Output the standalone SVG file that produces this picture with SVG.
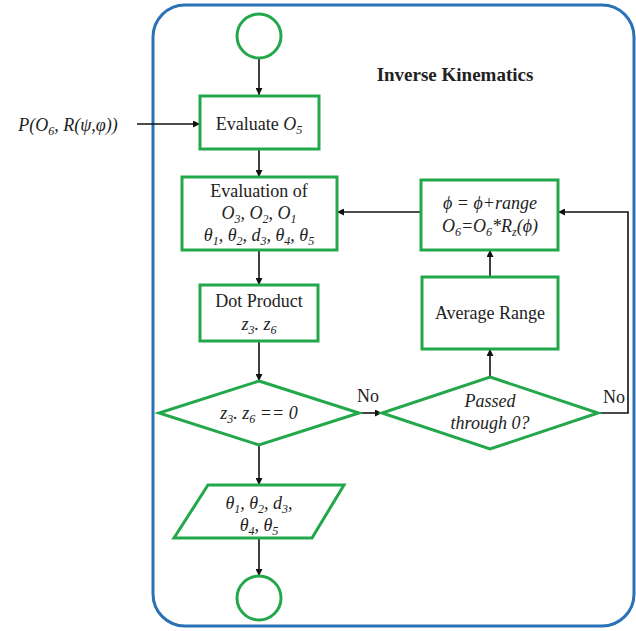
<svg xmlns="http://www.w3.org/2000/svg" width="636" height="631" viewBox="0 0 636 631">
<style>
.n{fill:#fff;stroke:#22a84a;stroke-width:3}
.c{fill:none;stroke:#111;stroke-width:1.6}
text{font-family:"Liberation Serif","Times New Roman",serif;font-size:18px;fill:#222;text-anchor:middle}
.i{font-style:italic}
.s{font-size:12px}
</style>
<defs>
<marker id="a" viewBox="0 0 10 10" refX="10" refY="5" markerWidth="7" markerHeight="7" orient="auto" markerUnits="userSpaceOnUse">
<path d="M0,0L10,5L0,10z" fill="#111"/>
</marker>
</defs>
<rect x="153" y="5" width="481" height="621" rx="32" fill="#fff" stroke="#2a72b8" stroke-width="3"/>
<text x="455" y="81" style="font-weight:bold;font-size:19px">Inverse Kinematics</text>
<text x="68" y="131" class="i">P(O<tspan class="s" dy="4">6</tspan><tspan dy="-4">, R(ψ,φ))</tspan></text>
<g id="connectors">
<line class="c" x1="259" y1="58" x2="259" y2="95" marker-end="url(#a)"/>
<line class="c" x1="137" y1="124" x2="200" y2="124" marker-end="url(#a)"/>
<line class="c" x1="259" y1="149" x2="259" y2="177" marker-end="url(#a)"/>
<line class="c" x1="259" y1="250" x2="259" y2="285" marker-end="url(#a)"/>
<line class="c" x1="259" y1="341" x2="259" y2="381" marker-end="url(#a)"/>
<line class="c" x1="259" y1="445" x2="259" y2="485" marker-end="url(#a)"/>
<line class="c" x1="259" y1="538" x2="259" y2="576" marker-end="url(#a)"/>
<line class="c" x1="359" y1="413" x2="382" y2="413" marker-end="url(#a)"/>
<line class="c" x1="490" y1="377" x2="490" y2="349" marker-end="url(#a)"/>
<line class="c" x1="490" y1="277" x2="490" y2="250" marker-end="url(#a)"/>
<line class="c" x1="421" y1="212" x2="337" y2="212" marker-end="url(#a)"/>
<polyline class="c" points="598,413 628,413 628,212 558,212" marker-end="url(#a)"/>
<text x="368" y="402">No</text>
<text x="614" y="403">No</text>
</g>
<g id="start"><circle class="n" cx="259" cy="36" r="22"/></g>
<g id="evalO5"><rect class="n" x="200" y="96" width="119" height="53"/>
<text x="259" y="130">Evaluate <tspan class="i">O</tspan><tspan class="i s" dy="4">5</tspan></text></g>
<g id="evaluation"><rect class="n" x="182" y="177" width="155" height="73"/>
<text x="259" y="197">Evaluation of</text>
<text x="259" y="219" class="i">O<tspan class="s" dy="4">3</tspan><tspan dy="-4">, O</tspan><tspan class="s" dy="4">2</tspan><tspan dy="-4">, O</tspan><tspan class="s" dy="4">1</tspan></text>
<text x="259" y="241" class="i">θ<tspan class="s" dy="4">1</tspan><tspan dy="-4">, θ</tspan><tspan class="s" dy="4">2</tspan><tspan dy="-4">, d</tspan><tspan class="s" dy="4">3</tspan><tspan dy="-4">, θ</tspan><tspan class="s" dy="4">4</tspan><tspan dy="-4">, θ</tspan><tspan class="s" dy="4">5</tspan></text></g>
<g id="dot"><rect class="n" x="200" y="285" width="118" height="56"/>
<text x="259" y="307">Dot Product</text>
<text x="259" y="330" class="i">z<tspan class="s" dy="4">3</tspan><tspan dy="-4">. z</tspan><tspan class="s" dy="4">6</tspan></text></g>
<g id="cond1"><polygon class="n" points="259,381 359,413 259,445 159,413"/>
<text x="259" y="419" class="i">z<tspan class="s" dy="4">3</tspan><tspan dy="-4">. z</tspan><tspan class="s" dy="4">6</tspan><tspan dy="-4"> == 0</tspan></text></g>
<g id="cond2"><polygon class="n" points="490,377 598,413 490,449 382,413"/>
<text x="490" y="407" class="i">Passed</text>
<text x="490" y="429" class="i">through 0?</text></g>
<g id="avg"><rect class="n" x="422" y="277" width="136" height="72"/>
<text x="490" y="319">Average Range</text></g>
<g id="phi"><rect class="n" x="421" y="180" width="137" height="70"/>
<text x="490" y="209" class="i">ϕ = ϕ+range</text>
<text x="490" y="232" class="i">O<tspan class="s" dy="4">6</tspan><tspan dy="-4">=O</tspan><tspan class="s" dy="4">6</tspan><tspan dy="-4">*R</tspan><tspan class="s" dy="4">z</tspan><tspan dy="-4">(ϕ)</tspan></text></g>
<g id="output"><polygon class="n" points="208,485 344,485 312,538 174,538"/>
<text x="259" y="509" class="i">θ<tspan class="s" dy="4">1</tspan><tspan dy="-4">, θ</tspan><tspan class="s" dy="4">2</tspan><tspan dy="-4">, d</tspan><tspan class="s" dy="4">3</tspan><tspan dy="-4">,</tspan></text>
<text x="259" y="531" class="i">θ<tspan class="s" dy="4">4</tspan><tspan dy="-4">, θ</tspan><tspan class="s" dy="4">5</tspan></text></g>
<g id="end"><circle class="n" cx="259" cy="598" r="22"/></g>
</svg>
